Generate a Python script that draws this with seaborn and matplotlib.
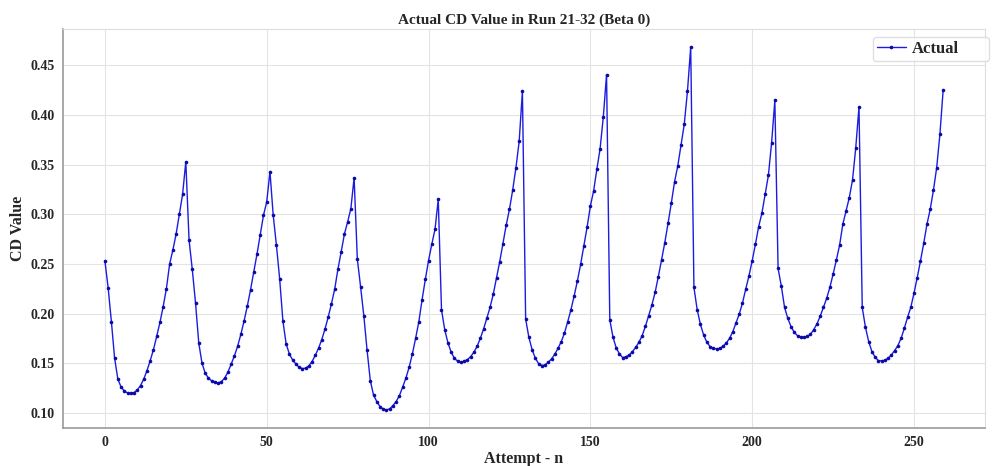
import numpy as np
import pandas as pd
import seaborn as sns
import matplotlib.pyplot as plt

# CD values, one per attempt (0..259)
cycle_01 = [0.253, 0.226, 0.192, 0.155, 0.134, 0.126, 0.122, 0.120, 0.1195, 0.1205,
            0.123, 0.1275, 0.134, 0.1425, 0.1526, 0.1637, 0.177, 0.191, 0.207, 0.225,
            0.250, 0.264, 0.280, 0.300, 0.320, 0.353]
cycle_02 = [0.274, 0.2444, 0.2106, 0.1704, 0.150, 0.140, 0.1349, 0.1322, 0.1308, 0.130,
            0.1315, 0.135, 0.141, 0.149, 0.1573, 0.167, 0.179, 0.1925, 0.2075, 0.224,
            0.242, 0.260, 0.2795, 0.299, 0.3124, 0.343]
cycle_03 = [0.299, 0.2688, 0.2347, 0.1925, 0.1694, 0.1593, 0.1533, 0.1493, 0.146, 0.1446,
            0.145, 0.1473, 0.1516, 0.158, 0.165, 0.1737, 0.1844, 0.1965, 0.2099, 0.2246,
            0.2447, 0.262, 0.280, 0.2923, 0.3057, 0.3368]
cycle_04 = [0.2548, 0.227, 0.1978, 0.1633, 0.1325, 0.118, 0.1114, 0.1064, 0.1037, 0.103,
            0.104, 0.1074, 0.1114, 0.1174, 0.126, 0.135, 0.1459, 0.1593, 0.175, 0.1918,
            0.2139, 0.2343, 0.2534, 0.2698, 0.2849, 0.315]
cycle_05 = [0.2039, 0.1838, 0.1704, 0.161, 0.155, 0.152, 0.151, 0.152, 0.1536, 0.1566,
            0.161, 0.167, 0.175, 0.1844, 0.1952, 0.2062, 0.2196, 0.236, 0.2524, 0.2705,
            0.2892, 0.305, 0.3244, 0.3469, 0.3733, 0.4239]
cycle_06 = [0.1945, 0.176, 0.1637, 0.155, 0.1496, 0.1476, 0.1483, 0.151, 0.1543, 0.159,
            0.165, 0.1717, 0.1804, 0.1918, 0.2039, 0.2179, 0.233, 0.2497, 0.2682, 0.2872,
            0.3083, 0.3234, 0.3452, 0.3659, 0.3981, 0.4406]
cycle_07 = [0.1938, 0.176, 0.1653, 0.1593, 0.1556, 0.1566, 0.1583, 0.1616, 0.166, 0.171,
            0.1777, 0.1871, 0.1978, 0.2085, 0.2213, 0.2373, 0.2541, 0.2715, 0.2909, 0.311,
            0.3325, 0.3485, 0.3693, 0.3904, 0.4239, 0.4684]
cycle_08 = [0.2263, 0.2039, 0.1891, 0.1784, 0.171, 0.1667, 0.165, 0.1643, 0.165, 0.167,
            0.1704, 0.175, 0.1817, 0.1905, 0.1995, 0.2106, 0.2246, 0.238, 0.2531, 0.2698,
            0.2876, 0.301, 0.320, 0.3391, 0.372, 0.4148]
cycle_09 = [0.2454, 0.2277, 0.2062, 0.1952, 0.1868, 0.1811, 0.1777, 0.1764, 0.176, 0.177,
            0.179, 0.1838, 0.1895, 0.1972, 0.2062, 0.2152, 0.2263, 0.2397, 0.2538, 0.2688,
            0.2899, 0.3033, 0.3167, 0.3345, 0.367, 0.4082]
cycle_10 = [0.2062, 0.1861, 0.1717, 0.1617, 0.156, 0.1526, 0.1523, 0.153, 0.155, 0.1583,
            0.1627, 0.1677, 0.175, 0.1851, 0.1962, 0.2062, 0.2206, 0.2363, 0.2531, 0.2708,
            0.2899, 0.305, 0.3241, 0.3469, 0.3804, 0.4249]

cd_values = (cycle_01 + cycle_02 + cycle_03 + cycle_04 + cycle_05 +
             cycle_06 + cycle_07 + cycle_08 + cycle_09 + cycle_10)
attempts = np.arange(len(cd_values))

df = pd.DataFrame({'Attempt': attempts, 'CD': cd_values})

sns.set_style('whitegrid', {'grid.color': '#e3e3e3', 'axes.edgecolor': '#9a9a9a'})
plt.rcParams['font.family'] = ['Liberation Serif', 'DejaVu Serif']
plt.rcParams['font.weight'] = 'bold'

fig = plt.figure(figsize=(9.92, 4.66), dpi=100)
ax = fig.add_axes([0.0635, 0.0815, 0.9295, 0.8565])

line_color = '#1c1ce0'
sns.lineplot(data=df, x='Attempt', y='CD', ax=ax, color=line_color, linewidth=1.0,
             marker='o', markersize=2.6, markeredgewidth=0, markerfacecolor='#0a0aa8',
             label='Actual')

ax.set_title('Actual CD Value in Run 21-32 (Beta 0)', fontsize=11, fontweight='bold', pad=4)
ax.set_xlabel('Attempt - n', fontsize=11.5, fontweight='bold', labelpad=1)
ax.set_ylabel('CD Value', fontsize=11.5, fontweight='bold', labelpad=3)
ax.set_xticks([0, 50, 100, 150, 200, 250])
ax.set_yticks([0.10, 0.15, 0.20, 0.25, 0.30, 0.35, 0.40, 0.45])
ax.yaxis.set_major_formatter(plt.FormatStrFormatter('%.2f'))
ax.tick_params(axis='both', labelsize=10, length=0, pad=6)
for lbl in ax.get_xticklabels() + ax.get_yticklabels():
    lbl.set_fontweight('bold')

ax.margins(x=0.05, y=0.05)
ax.spines['top'].set_color('#dddddd')
ax.spines['right'].set_color('#dddddd')
ax.spines['left'].set_linewidth(1.2)
ax.spines['bottom'].set_linewidth(1.2)

# legend box in the top right corner, stretched towards the right edge
leg = ax.legend(loc='upper left', fontsize=12, frameon=True, handlelength=1.7,
                handletextpad=0.4, borderpad=0.25, borderaxespad=0, mode='expand',
                fancybox=True, bbox_to_anchor=(873 / 992, 1 - 37 / 466, 116 / 992, 0.0),
                bbox_transform=fig.transFigure)
leg.get_frame().set_edgecolor('#d8d8d8')
for t in leg.get_texts():
    t.set_fontweight('bold')

fig.savefig('out.png', dpi=100)
